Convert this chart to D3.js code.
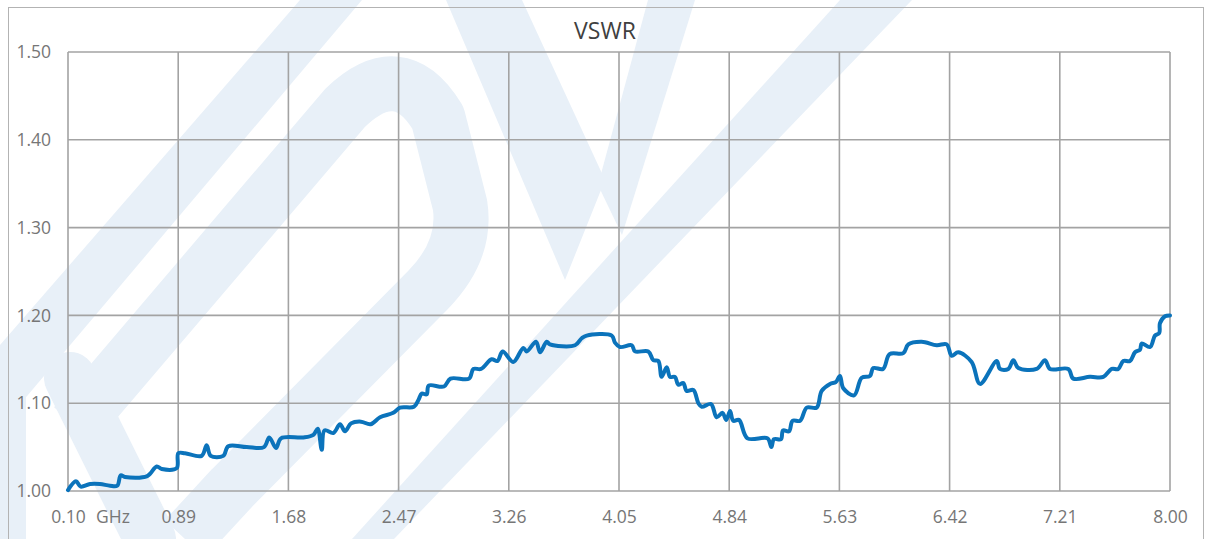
<!DOCTYPE html>
<html>
<head>
<meta charset="utf-8">
<script src="https://cdn.jsdelivr.net/npm/d3@7"></script>
<style>
  html, body { margin: 0; padding: 0; background: #fff; }
  svg { display: block; }
  text { font-family: "Open Sans", "Noto Sans", sans-serif; }
</style>
</head>
<body>
<div id="chart"></div>
<script>
// frequency in GHz
const freq = [0.10, 0.157, 0.191, 0.258, 0.329, 0.401, 0.453, 0.478, 0.509, 0.668,
  0.736, 0.772, 0.879, 0.891, 0.939, 1.058, 1.094, 1.123, 1.213, 1.249,
  1.381, 1.505, 1.543, 1.591, 1.627, 1.787, 1.859, 1.890, 1.919, 1.939,
  2.002, 2.050, 2.086, 2.129, 2.200, 2.269, 2.337, 2.432, 2.480, 2.580,
  2.613, 2.636, 2.671, 2.686, 2.795, 2.842, 2.975, 3.006, 3.061, 3.137,
  3.178, 3.216, 3.292, 3.364, 3.388, 3.455, 3.484, 3.532, 3.555, 3.735,
  3.783, 3.818, 3.998, 4.021, 4.057, 4.141, 4.165, 4.260, 4.296, 4.332,
  4.356, 4.392, 4.416, 4.451, 4.475, 4.511, 4.535, 4.583, 4.619, 4.643,
  4.710, 4.750, 4.792, 4.819, 4.846, 4.869, 4.910, 4.971, 5.115, 5.142,
  5.161, 5.211, 5.226, 5.269, 5.294, 5.348, 5.396, 5.467, 5.503, 5.563,
  5.604, 5.634, 5.658, 5.735, 5.790, 5.849, 5.873, 5.943, 5.990, 6.088,
  6.124, 6.220, 6.328, 6.399, 6.435, 6.482, 6.578, 6.638, 6.758, 6.781,
  6.841, 6.877, 6.913, 7.044, 7.104, 7.140, 7.271, 7.307, 7.426, 7.522,
  7.582, 7.629, 7.665, 7.713, 7.749, 7.785, 7.797, 7.857, 7.892, 7.923,
  7.928, 7.964, 8.00];

const vswr = [1.001, 1.011, 1.005, 1.008, 1.008, 1.006, 1.006, 1.018, 1.016, 1.017,
  1.028, 1.025, 1.026, 1.043, 1.043, 1.040, 1.052, 1.040, 1.040, 1.051,
  1.050, 1.050, 1.061, 1.049, 1.060, 1.061, 1.064, 1.071, 1.047, 1.069,
  1.066, 1.076, 1.068, 1.077, 1.079, 1.076, 1.084, 1.089, 1.095, 1.096,
  1.104, 1.111, 1.110, 1.120, 1.119, 1.128, 1.128, 1.139, 1.139, 1.150,
  1.148, 1.159, 1.147, 1.163, 1.159, 1.170, 1.158, 1.170, 1.167, 1.166,
  1.174, 1.177, 1.177, 1.169, 1.164, 1.166, 1.159, 1.159, 1.149, 1.148,
  1.130, 1.141, 1.130, 1.130, 1.121, 1.123, 1.114, 1.115, 1.100, 1.096,
  1.099, 1.084, 1.089, 1.081, 1.091, 1.080, 1.081, 1.060, 1.060, 1.050,
  1.059, 1.059, 1.069, 1.068, 1.080, 1.080, 1.095, 1.095, 1.114, 1.122,
  1.124, 1.131, 1.117, 1.109, 1.129, 1.131, 1.140, 1.139, 1.156, 1.157,
  1.167, 1.170, 1.166, 1.167, 1.154, 1.158, 1.147, 1.122, 1.148, 1.139,
  1.139, 1.149, 1.140, 1.139, 1.149, 1.139, 1.139, 1.128, 1.130, 1.130,
  1.139, 1.139, 1.148, 1.148, 1.158, 1.161, 1.168, 1.164, 1.177, 1.180,
  1.191, 1.199, 1.200];

const xTicks = [0.10, 0.89, 1.68, 2.47, 3.26, 4.05, 4.84, 5.63, 6.42, 7.21, 8.00];
const yTicks = [1.00, 1.10, 1.20, 1.30, 1.40, 1.50];
const title = "VSWR";
const unit = "GHz";

const W = 1211, H = 539;
const plot = { left: 68, right: 1170, top: 52, bottom: 491 };
const labelColor = "#767676";

const svg = d3.select("#chart").append("svg")
  .attr("width", W).attr("height", H);

svg.append("rect").attr("width", W).attr("height", H).attr("fill", "#fff");

// faint logo watermark behind the chart
const wmColor = "#e8f0f8";
const wm = svg.append("g").attr("fill", wmColor).attr("stroke", "none");
const bands = [
  [[0, 345], [300, 0], [362, 0], [0, 428]],
  [[0, 400], [26, 380], [26, 539], [0, 539]],
  [[352, 539], [394, 539], [912, 0], [840, 0]],
  [[446, 0], [522, 0], [605, 180], [565, 280]],
  [[598, 185], [648, 0], [695, 0], [622, 235]]
];
wm.selectAll("polygon").data(bands).join("polygon")
  .attr("points", d => d.map(p => p.join(",")).join(" "));

wm.append("path")
  .attr("fill", "none")
  .attr("stroke", wmColor)
  .attr("stroke-width", 55)
  .attr("stroke-linejoin", "round")
  .attr("d", "M 75,425 L 345,108 Q 400,55 438,118 L 460,205 Q 467,250 428,290 L 232,488 L 185,539");
wm.append("path")
  .attr("fill", "none")
  .attr("stroke", wmColor)
  .attr("stroke-width", 52)
  .attr("stroke-linecap", "round")
  .attr("d", "M 70,378 L 150,539");

// outer chart frame
svg.append("rect")
  .attr("x", 8.5).attr("y", 7.5)
  .attr("width", 1195).attr("height", 545)
  .attr("fill", "none")
  .attr("stroke", "#b3b3b3")
  .attr("stroke-width", 1);

const x = d3.scaleLinear().domain([0.10, 8.00]).range([plot.left, plot.right]);
const y = d3.scaleLinear().domain([1.00, 1.50]).range([plot.bottom, plot.top]);

const grid = svg.append("g").attr("stroke", "#a3a3a3").attr("stroke-width", 1.6);

grid.selectAll("line.v").data(xTicks).join("line")
  .attr("class", "v")
  .attr("x1", d => x(d)).attr("x2", d => x(d))
  .attr("y1", plot.top).attr("y2", plot.bottom);

grid.selectAll("line.h").data(yTicks).join("line")
  .attr("class", "h")
  .attr("x1", plot.left).attr("x2", plot.right)
  .attr("y1", d => y(d)).attr("y2", d => y(d));

// axes only used for labels
const yAxis = svg.append("g")
  .attr("transform", `translate(${plot.left - 17},0)`)
  .call(d3.axisLeft(y).tickValues(yTicks).tickFormat(d3.format(".2f")).tickSize(0));
yAxis.select(".domain").remove();
yAxis.selectAll("text")
  .attr("x", 0)
  .attr("fill", labelColor)
  .style("font-size", "17.5px")
  .style("font-family", "'Open Sans', sans-serif");

const xAxis = svg.append("g")
  .attr("transform", `translate(0,${plot.bottom})`)
  .call(d3.axisBottom(x).tickValues(xTicks).tickFormat(d3.format(".2f")).tickSize(0));
xAxis.select(".domain").remove();
xAxis.selectAll("text")
  .attr("y", 20)
  .attr("fill", labelColor)
  .style("font-size", "17.5px")
  .style("font-family", "'Open Sans', sans-serif");

// unit sits next to the first tick label, same baseline
svg.append("text")
  .attr("x", x(xTicks[0]) + 28)
  .attr("y", plot.bottom + 20)
  .attr("dy", "0.71em")
  .attr("fill", labelColor)
  .style("font-size", "17.5px")
  .text(unit);

svg.append("text")
  .attr("x", 605)
  .attr("y", 38.5)
  .attr("text-anchor", "middle")
  .attr("fill", "#404040")
  .style("font-size", "23px")
  .text(title);

const data = freq.map((f, i) => ({ f, v: vswr[i] }));

const line = d3.line()
  .x(d => x(d.f))
  .y(d => y(d.v))
  .curve(d3.curveCatmullRom.alpha(0.5));

svg.append("path")
  .datum(data)
  .attr("fill", "none")
  .attr("stroke", "#0b73bb")
  .attr("stroke-width", 4)
  .attr("stroke-linejoin", "round")
  .attr("stroke-linecap", "round")
  .attr("d", line);
</script>
</body>
</html>
